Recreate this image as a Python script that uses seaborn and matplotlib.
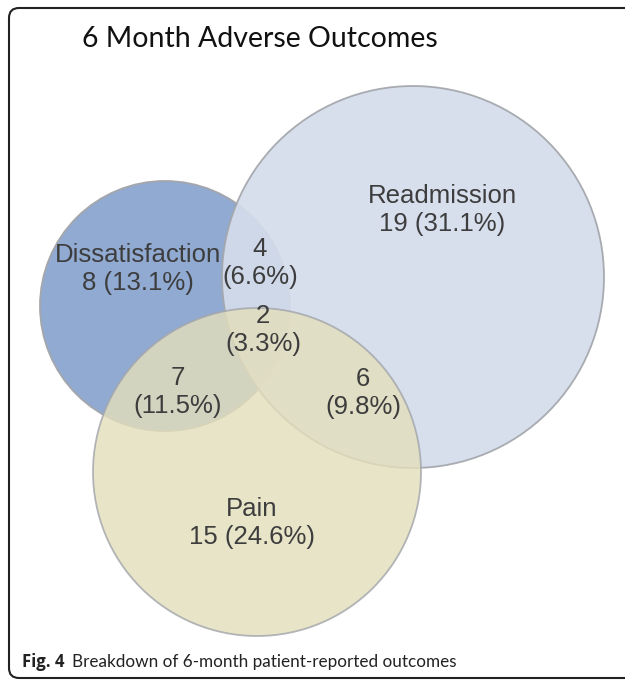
import matplotlib
matplotlib.use('Agg')
import matplotlib.pyplot as plt
import seaborn as sns
from matplotlib.patches import Circle, FancyBboxPatch

# data
sets = ['Dissatisfaction', 'Readmission', 'Pain']
set_counts = [8, 19, 15]
set_pcts = [13.1, 31.1, 24.6]

overlap_names = ['D&R', 'D&R&P', 'D&P', 'R&P']
overlap_counts = [4, 2, 7, 6]
overlap_pcts = [6.6, 3.3, 11.5, 9.8]

# layout (pixel coords, y down)
circles = {
    'Dissatisfaction': dict(xy=(165, 306), r=125, fc='#91aad2', alpha=1.0),
    'Readmission': dict(xy=(413, 277), r=191, fc='#d4dceb', alpha=0.93),
    'Pain': dict(xy=(257, 472), r=164, fc='#e3debc', alpha=0.82),
}
set_label_pos = {'Dissatisfaction': (138, 269), 'Readmission': (442, 210), 'Pain': (252, 523)}
overlap_label_pos = {'D&R': (260, 263), 'D&R&P': (263, 330), 'D&P': (178, 392), 'R&P': (363, 393)}

sns.set_theme(style='white')
plt.rcParams['font.family'] = ['Liberation Sans', 'DejaVu Sans']

W, H = 625, 681
fig = plt.figure(figsize=(W / 100, H / 100), dpi=100)
ax = fig.add_axes([0, 0, 1, 1])
ax.set_xlim(0, W)
ax.set_ylim(H, 0)
ax.set_aspect('equal')
ax.axis('off')

for name in sets:
    c = circles[name]
    ax.add_patch(Circle(c['xy'], c['r'], facecolor=c['fc'], alpha=c['alpha'],
                        edgecolor='#a3a6ab', lw=1.3, zorder=2))

txt_kw = dict(ha='center', va='center', fontsize=18.5, color='#3d3d3d',
              linespacing=1.2, zorder=5)
for name, n, p in zip(sets, set_counts, set_pcts):
    x, y = set_label_pos[name]
    ax.text(x, y, f'{name}\n{n} ({p}%)', **txt_kw)
for key, n, p in zip(overlap_names, overlap_counts, overlap_pcts):
    x, y = overlap_label_pos[key]
    ax.text(x, y, f'{n}\n({p}%)', **txt_kw)

ax.text(82, 39, '6 Month Adverse Outcomes', ha='left', va='center',
        fontsize=20.5, color='#111111', family=['Lato', 'DejaVu Sans'])

# frame
ax.add_patch(FancyBboxPatch((9, 8), 700, 670, boxstyle='round,pad=0,rounding_size=10',
                            facecolor='none', edgecolor='#222222', lw=1.5, zorder=6,
                            clip_on=False))

ax.text(22, 662, 'Fig. 4', ha='left', va='center', fontsize=12, fontweight='bold',
        color='#222222', family=['Open Sans', 'DejaVu Sans'])
ax.text(72, 662, 'Breakdown of 6-month patient-reported outcomes', ha='left', va='center',
        fontsize=12.3, color='#222222', family=['Lato', 'DejaVu Sans'])

fig.savefig('out.png', dpi=100)
